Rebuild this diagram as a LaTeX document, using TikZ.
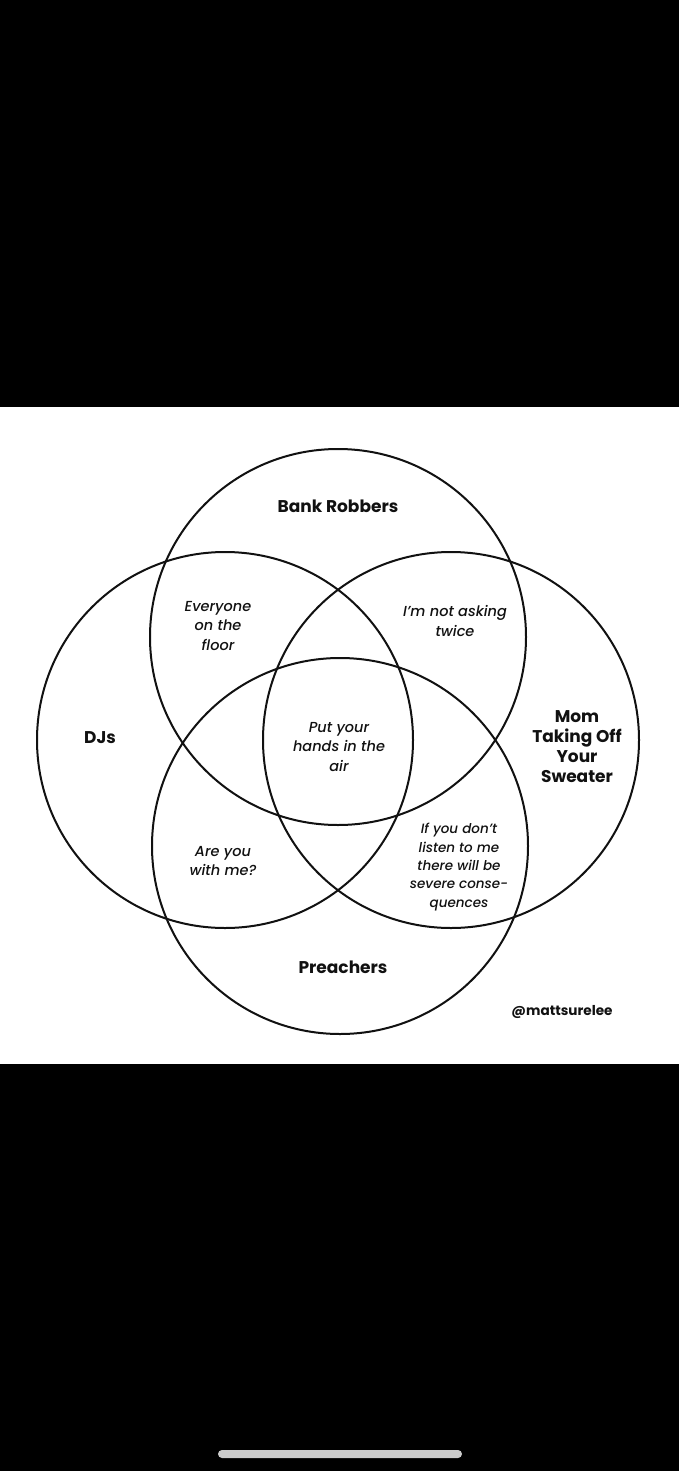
\documentclass[tikz,border=0pt]{standalone}
\usepackage{fontspec}
\setmainfont{Poppins}
\newfontfamily\popmedit{Poppins Medium Italic}
\definecolor{ink}{HTML}{111111}
\definecolor{bargrey}{HTML}{CCCCCC}
\tikzset{
  venn/.style={circle, draw=ink, line width=2pt, minimum size=376pt, inner sep=0pt},
  setlabel/.style={align=center, text=ink, font=\bfseries\fontsize{17}{20}\selectfont, inner sep=0pt},
  slogan/.style={align=center, text=ink, font=\popmedit\fontsize{14.5}{19.5}\selectfont, inner sep=0pt},
  small/.style={align=center, text=ink, font=\popmedit\fontsize{13.5}{18.3}\selectfont, inner sep=0pt},
}
\begin{document}
\begin{tikzpicture}[x=1pt,y=-1pt]
\useasboundingbox (0,0) rectangle (679,1471);
\fill[black] (0,0) rectangle (679,1471);
\fill[white] (0,407) rectangle (679,1063.5);
% circles
\node[venn] (br) at (338,637) {};
\node[venn] (dj) at (225,740) {};
\node[venn] (mom) at (451,740) {};
\node[venn] (pr) at (340,846) {};
% set labels
\node[setlabel] (lbr) at (338,506) {Bank Robbers};
\node[setlabel] (ldj) at (100,738) {DJs};
\node[setlabel] (lmom) at (577,747) {Mom\\Taking Off\\Your\\Sweater};
\node[setlabel] (lpr) at (343,967) {Preachers};
% intersections
\node[slogan] (efl) at (218,626) {Everyone\\on the\\floor};
\node[slogan] (nat) at (455,621) {I’m not asking\\twice};
\node[slogan] (pyh) at (339,747) {Put your\\hands in the\\air};
\node[slogan] (ayw) at (223,861) {Are you\\with me?};
\node[small] (ifd) at (459,867) {If you don’t\\listen to me\\there will be\\severe conse-\\quences};
% credit
\node[text=ink, font=\bfseries\fontsize{13.6}{15}\selectfont, inner sep=0pt] (cr) at (562,1012) {@mattsurelee};
% home indicator
\fill[bargrey, rounded corners=4pt] (218,1450) rectangle (462,1458);
\end{tikzpicture}
\end{document}
